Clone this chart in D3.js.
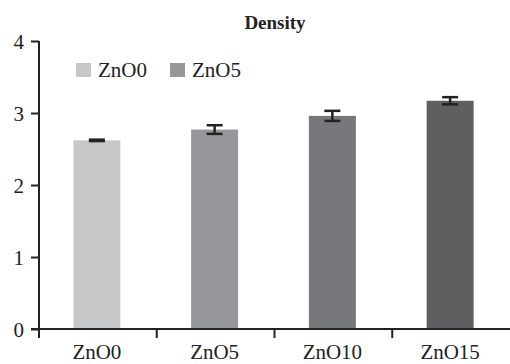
<!DOCTYPE html>
<html>
<head>
<meta charset="utf-8">
<script src="https://cdn.jsdelivr.net/npm/d3@7"></script>
</head>
<body style="margin:0">
<script>
// values
var categories = ["ZnO0", "ZnO5", "ZnO10", "ZnO15"];
var densityValues = [2.62, 2.77, 2.96, 3.17];
var densityErrors = [0.01, 0.06, 0.07, 0.05];
var barColors = ["#c6c7c9", "#96979b", "#77787c", "#5f5f61"];
var legendItems = ["ZnO0", "ZnO5"];
var yTicks = [0, 1, 2, 3, 4];

var svgWidth = 510;
var svgHeight = 364;

var chartMargin = {
    top: 41,
    right: 0,
    left: 39,
    bottom: 35};

var chartWidth = svgWidth - chartMargin.left - chartMargin.right;
var chartHeight = svgHeight - chartMargin.top - chartMargin.bottom;

var svg = d3.select("body")
    .append("svg")
    .attr("width", svgWidth)
    .attr("height", svgHeight)
    .attr("font-family", "Liberation Serif")
    .attr("fill", "#222");

var chartGroup = svg.append("g")
    .attr("transform", `translate(${chartMargin.left}, ${chartMargin.top})`);

var xGroupScale = d3.scaleBand()
    .domain(categories)
    .range([0, chartWidth]);

var yLinearScale = d3.scaleLinear()
    .domain([0, 4])
    .range([chartHeight, 0]);

// bars
chartGroup.selectAll("rect.bar")
    .data(categories)
    .enter()
    .append("rect")
    .attr("class", "bar")
    .attr("x", d => xGroupScale(d) + (xGroupScale.bandwidth() - 47) / 2 - 1)
    .attr("width", 47)
    .attr("y", (d, i) => yLinearScale(densityValues[i]))
    .attr("height", (d, i) => chartHeight - yLinearScale(densityValues[i]))
    .attr("fill", (d, i) => barColors[i]);

// error bars: stem + two caps
var errGroup = chartGroup.selectAll("g.err")
    .data(categories)
    .enter()
    .append("g")
    .attr("class", "err")
    .attr("stroke", "#222")
    .attr("stroke-width", 2.5)
    .attr("transform", d => `translate(${xGroupScale(d) + xGroupScale.bandwidth() / 2 - 1}, 0)`);

errGroup.append("line")
    .attr("y1", (d, i) => yLinearScale(densityValues[i] + densityErrors[i]))
    .attr("y2", (d, i) => yLinearScale(densityValues[i] - densityErrors[i]));

errGroup.append("line")
    .attr("x1", -8).attr("x2", 8)
    .attr("y1", (d, i) => yLinearScale(densityValues[i] + densityErrors[i]))
    .attr("y2", (d, i) => yLinearScale(densityValues[i] + densityErrors[i]));

errGroup.append("line")
    .attr("x1", -8).attr("x2", 8)
    .attr("y1", (d, i) => yLinearScale(densityValues[i] - densityErrors[i]))
    .attr("y2", (d, i) => yLinearScale(densityValues[i] - densityErrors[i]));

// y axis
var leftAxis = d3.axisLeft(yLinearScale)
    .tickValues(yTicks)
    .tickSize(8)
    .tickPadding(7)
    .tickFormat(d3.format("d"));

var yAxis = chartGroup.append("g")
    .call(leftAxis)
    .attr("font-family", "Liberation Serif")
    .attr("font-size", 21);
yAxis.select(".domain").attr("stroke", "#222").attr("stroke-width", 2)
    .attr("d", `M0,${chartHeight}V0`);
yAxis.selectAll(".tick line").attr("stroke", "#222").attr("stroke-width", 2);
yAxis.selectAll(".tick text")
    .attr("dy", "0.35em")
    .attr("fill", "#222");

// x axis with ticks at the group boundaries
var xAxis = chartGroup.append("g")
    .attr("transform", `translate(0, ${chartHeight})`);
xAxis.append("line")
    .attr("x1", -8).attr("x2", chartWidth)
    .attr("stroke", "#222")
    .attr("stroke-width", 2);
xAxis.selectAll("line.tick")
    .data(categories)
    .enter()
    .append("line")
    .attr("class", "tick")
    .attr("x1", d => xGroupScale(d)).attr("x2", d => xGroupScale(d))
    .attr("y2", 9)
    .attr("stroke", "#222")
    .attr("stroke-width", 2);
xAxis.selectAll("text")
    .data(categories)
    .enter()
    .append("text")
    .attr("x", d => xGroupScale(d) + xGroupScale.bandwidth() / 2 - 1)
    .attr("y", 30)
    .attr("text-anchor", "middle")
    .attr("font-size", 21)
    .text(d => d);

// title
svg.append("text")
    .attr("x", 275)
    .attr("y", 29)
    .attr("text-anchor", "middle")
    .attr("font-size", 19)
    .attr("font-weight", "bold")
    .text("Density");

// legend (only the first two series)
var legend = svg.selectAll("g.legend")
    .data(legendItems)
    .enter()
    .append("g")
    .attr("class", "legend")
    .attr("transform", (d, i) => `translate(${76 + i * 94}, 63)`);
legend.append("rect")
    .attr("width", 15)
    .attr("height", 14)
    .attr("fill", (d, i) => barColors[i]);
legend.append("text")
    .attr("x", 22)
    .attr("y", 14)
    .attr("font-size", 21)
    .text(d => d);
</script>
</body>
</html>
